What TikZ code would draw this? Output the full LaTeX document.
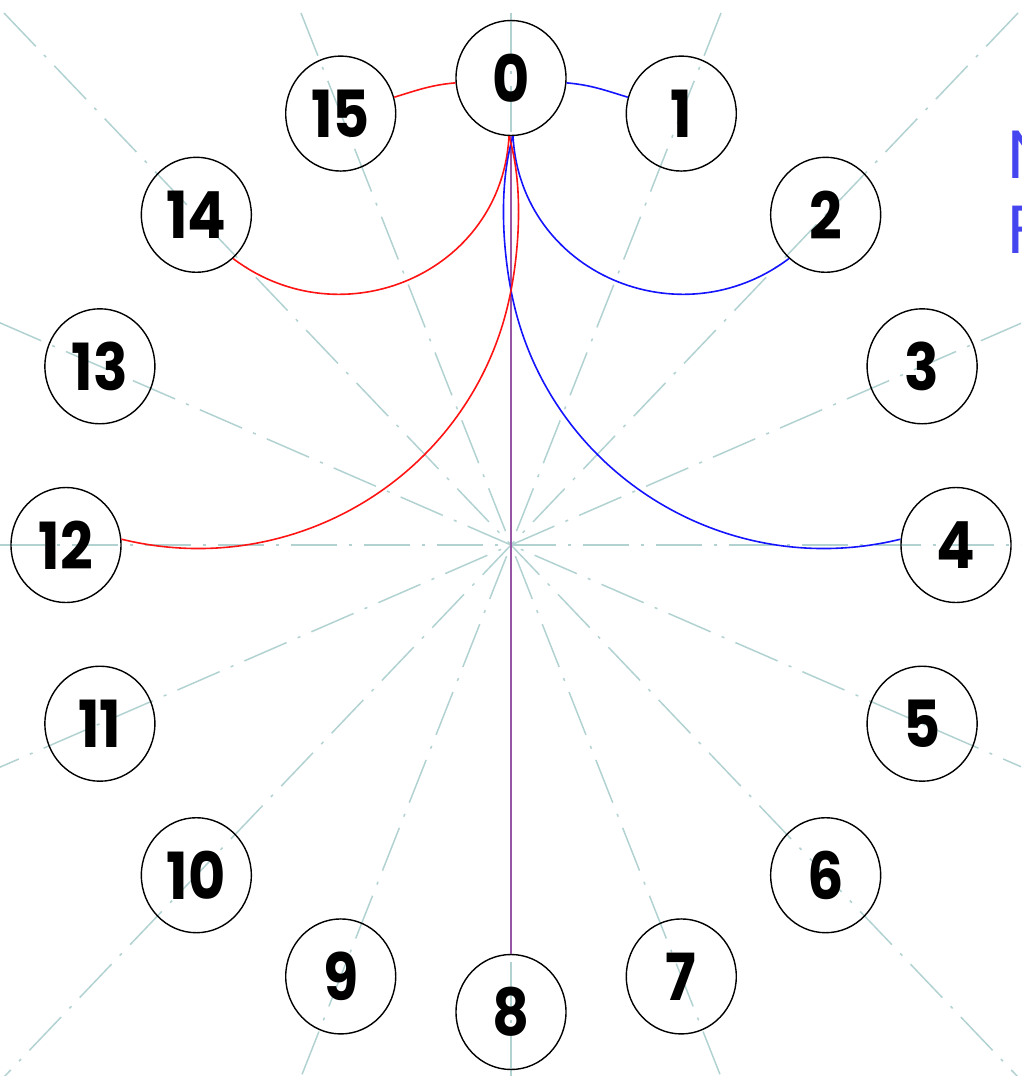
\documentclass[tikz,border=0pt]{standalone}
\usepackage{fontspec}
\setmainfont{Poppins}
\newfontfamily\numfont[FakeStretch=0.88]{Poppins}
\usetikzlibrary{shapes.geometric}
\definecolor{guide}{RGB}{178,210,210}
\definecolor{myblue}{RGB}{20,20,255}
\definecolor{myred}{RGB}{255,20,20}
\definecolor{mypurple}{RGB}{150,85,165}
\definecolor{txtblue}{RGB}{70,70,240}
\begin{document}
\begin{tikzpicture}[x=1pt,y=1pt,
  nd/.style={draw=black, line width=1.4pt, ellipse, minimum width=110pt, minimum height=115pt, inner sep=0pt, font=\numfont\fontsize{65}{65}\selectfont\bfseries},
  guideline/.style={draw=guide, line width=1.5pt, dash pattern=on 46pt off 12pt on 3pt off 12pt},
  conn/.style={line width=1.6pt},
]
\useasboundingbox (0,0) rectangle (1021,-1076);
\clip (0,0) rectangle (1021,-1076);
\coordinate (c) at (511,-545);
\foreach \x/\y in {0/532, 210/532, 507/532, 512/222.6, -512/0, -512/222.6, -507/532, -210/532}
  \draw[guideline, shift={(c)}] (\x,\y) -- ({-1*\x},{-1*\y});
\foreach \k in {0,...,15}
  \node[nd] (n\k) at ({511+445*cos(90-22.5*\k)},{-545+467*sin(90-22.5*\k)}) {\k};
\draw[conn, mypurple] (n0.south) -- (n8.north);
\draw[conn, myblue] (n0.-5) to[out=-5,in=163] (n1.163);
\draw[conn, myred] (n0.185) to[out=185,in=17] (n15.17);
\draw[conn, myblue] (n0.-88) .. controls +(-87:137) and +(217:137) .. (n2.230);
\draw[conn, myred] (n0.-92) .. controls +(-93:137) and +(-37:137) .. (n14.-50);
\draw[conn, myblue] (n0.-88) .. controls (497,-190) and (504,-260) .. (513,-300) .. controls (551,-473) and (725.6,-582.1) .. (n4.174);
\draw[conn, myred] (n0.-92) .. controls (525,-190) and (518,-260) .. (509,-300) .. controls (471,-473) and (296.4,-582.1) .. (n12.6);
\node[anchor=base west, text=txtblue, inner sep=0pt, font=\fontsize{68}{68}\selectfont] (tN) at (1007,-178) {N};
\node[anchor=base west, text=txtblue, inner sep=0pt, font=\fontsize{68}{68}\selectfont] (tF) at (1007,-253) {F};
\end{tikzpicture}
\end{document}
